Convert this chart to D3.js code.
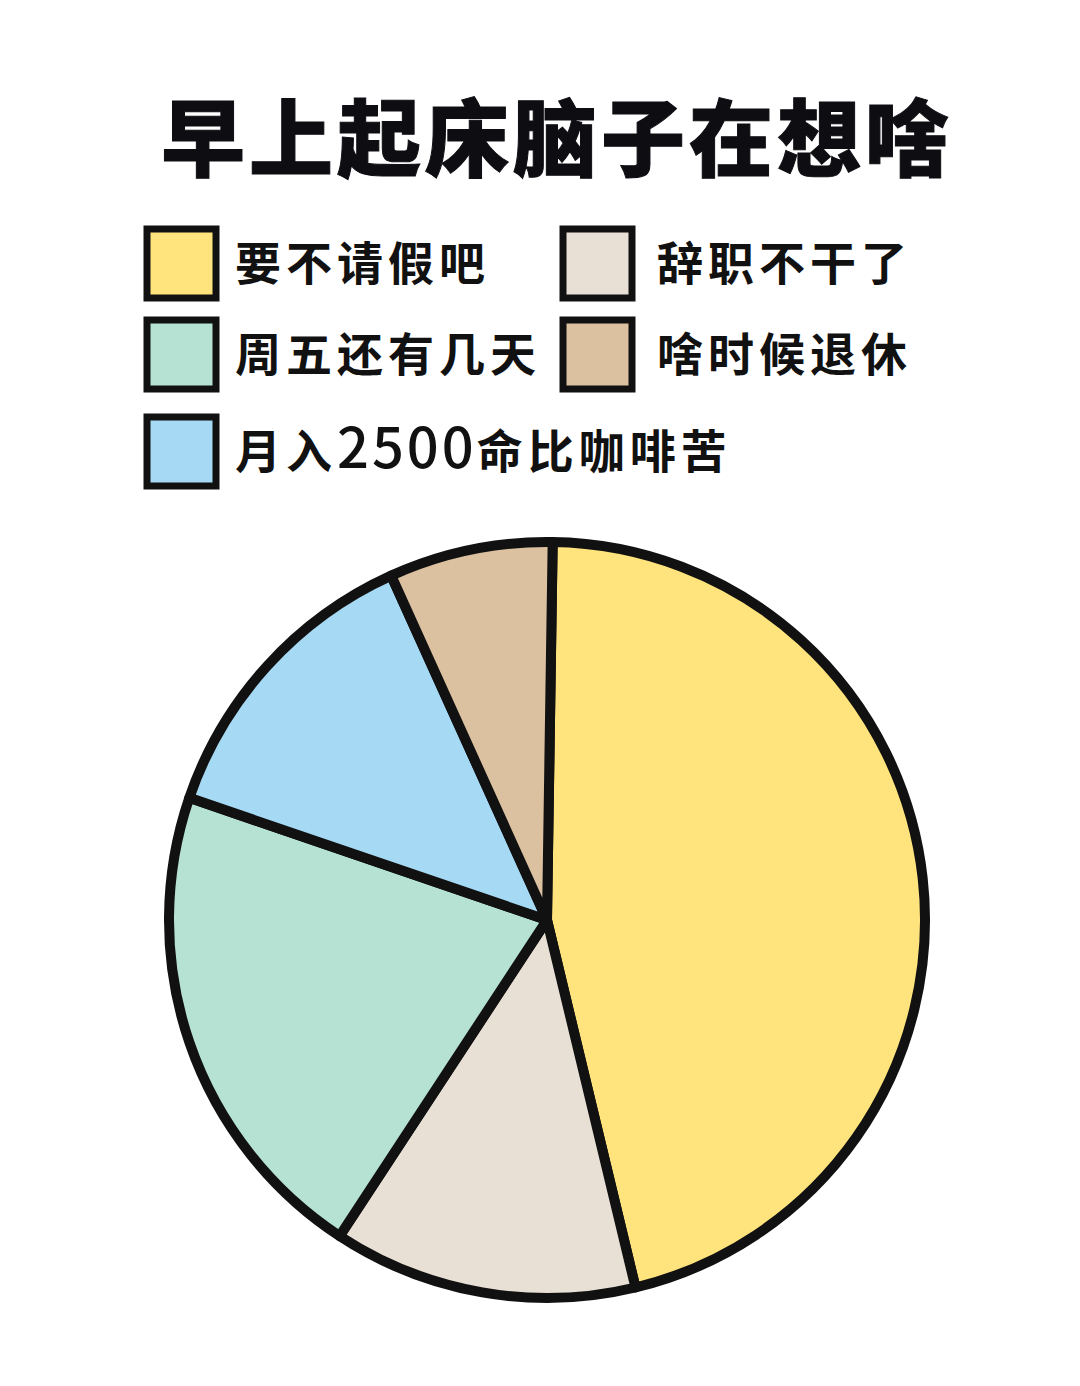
<!DOCTYPE html>
<html><head><meta charset="utf-8">
<script src="https://cdn.jsdelivr.net/npm/d3@7"></script>
<style>html,body{margin:0;padding:0;background:#fff;}</style>
</head><body>
<script>
const title = "早上起床脑子在想啥";
const categories = ["要不请假吧", "辞职不干了", "周五还有几天", "月入2500命比咖啡苦", "啥时候退休"];
const values = [46, 13, 21, 13, 7];
const colors = ["#FFE47E", "#E8DFD5", "#B5E2D2", "#A6D9F3", "#DCC1A1"];
// legend order as displayed (row-major, two columns)
const legendOrder = [0, 1, 2, 4, 3];

const W = 1080, H = 1386;
const svg = d3.select("body").append("svg").attr("width", W).attr("height", H);
svg.append("rect").attr("width", W).attr("height", H).attr("fill", "#fff");

svg.append("text").text(title)
  .attr("x", 557).attr("y", 170)
  .attr("text-anchor", "middle")
  .attr("font-family", "'Noto Sans CJK SC'")
  .attr("font-weight", 900)
  .attr("font-size", 84)
  .attr("letter-spacing", 4)
  .attr("fill", "#0d0d12")
  .attr("stroke", "#0d0d12").attr("stroke-width", 1);

const legendPos = [
  {x: 147, y: 229}, {x: 563, y: 229},
  {x: 147, y: 320}, {x: 563, y: 320},
  {x: 147, y: 417}
];
const lg = svg.append("g");
legendOrder.forEach((ci, i) => {
  const p = legendPos[i];
  lg.append("rect").attr("x", p.x).attr("y", p.y).attr("width", 69).attr("height", 69)
    .attr("fill", colors[ci]).attr("stroke", "#111").attr("stroke-width", 7);
  const t = lg.append("text")
    .attr("x", p.x + (i % 2 === 0 ? 88 : 94)).attr("y", p.y + 51)
    .attr("font-family", "'Noto Sans CJK SC'")
    .attr("font-weight", 700)
    .attr("font-size", 46)
    .attr("fill", "#111");
  // split into runs of digits / non-digits so digits can be drawn larger
  const runs = categories[ci].match(/\d+|\D+/g);
  runs.forEach(r => {
    const isNum = /\d/.test(r);
    t.append("tspan").text(r)
      .attr("font-size", isNum ? 56 : 46)
      .attr("font-weight", isNum ? 500 : 700)
      .attr("letter-spacing", isNum ? 3 : 5);
  });
});

const cx = 547, cy = 920, R = 378;
const pie = d3.pie().sort(null).value(d => d).startAngle(0.015).endAngle(2 * Math.PI + 0.015);
const arc = d3.arc().innerRadius(0).outerRadius(R);
const g = svg.append("g").attr("transform", `translate(${cx},${cy})`);
g.selectAll("path").data(pie(values)).join("path")
  .attr("d", arc)
  .attr("fill", (d, i) => colors[i])
  .attr("stroke", "#111")
  .attr("stroke-width", 10)
  .attr("stroke-linejoin", "round");
</script>
</body></html>
